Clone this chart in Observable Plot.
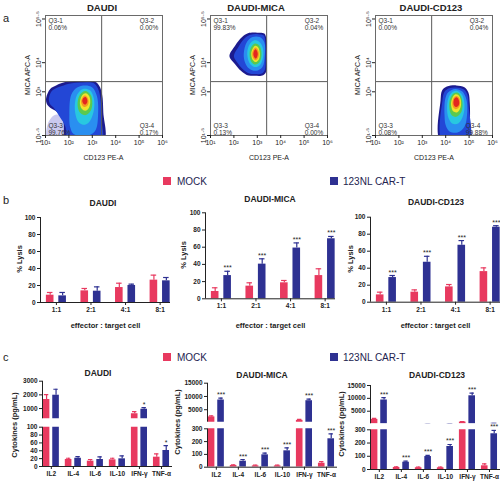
<!DOCTYPE html>
<html><head><meta charset="utf-8">
<script src="https://cdn.jsdelivr.net/npm/d3@7"></script>
<script src="https://cdn.jsdelivr.net/npm/@observablehq/plot@0.6"></script>
<style>
html,body{margin:0;padding:0;background:#fff;}
#root{position:relative;width:500px;height:481px;overflow:hidden;font-family:"Liberation Sans",Arial,Helvetica,sans-serif;}
#root svg{position:absolute;}
</style></head>
<body><div id="root"></div>
<script>
// ================= DATA =================
// Panel a (flow cytometry, log10 units)
const flowTitles = ["DAUDI", "DAUDI-MICA", "DAUDI-CD123"];
const quadNames = ["Q3-1", "Q3-2", "Q3-3", "Q3-4"];
const daudiQuadPct = ["0.06%", "0.00%", "99.76%", "0.17%"];
const micaQuadPct = ["99.83%", "0.04%", "0.13%", "0.00%"];
const cd123QuadPct = ["0.00%", "0.04%", "0.08%", "99.88%"];
const flowXTicks = [1, 2, 3, 4, 5, 6];
const flowXTickLabels = ["10¹", "10²", "10³", "10⁴", "10⁵", "10⁶"];
const flowYTicks = [1.5, 3, 4, 5.5];
const flowYTickLabels = ["10¹·⁵", "10³", "10⁴", "10⁵·⁵"];
const gateX = 3.4, gateY = 3.35;
// density contour outlines as closed polygons [log CD123, log MICA], outer -> inner
const daudiLavender = [[1.1,1.3],[1.1,1.9],[1.4,2.2],[1.8,2.15],[2.0,1.7],[2.0,1.3]];
const daudiContours = [
  [[1.03,2.8],[1.2,3.1],[1.45,3.22],[1.7,3.3],[2.0,3.35],[2.6,3.37],[3.1,3.35],[3.3,3.2],[3.42,2.9],[3.47,2.3],[3.48,1.3],[1.9,1.3],[1.75,2.0],[1.5,2.3],[1.2,2.45],[1.05,2.6]],
  [[1.15,2.8],[1.3,3.05],[1.7,3.2],[2.0,3.28],[2.6,3.32],[3.05,3.3],[3.25,3.1],[3.36,2.7],[3.4,2.0],[3.4,1.3],[1.95,1.3],[1.85,1.8],[1.6,2.15],[1.35,2.45],[1.18,2.6]],
  [[2.02,2.2],[2.1,2.9],[2.35,3.15],[2.7,3.22],[3.0,3.15],[3.2,2.85],[3.25,2.3],[3.15,1.7],[2.9,1.52],[2.5,1.5],[2.2,1.55],[2.05,1.8]],
  [[2.25,2.45],[2.35,2.9],[2.6,3.1],[2.9,3.05],[3.07,2.75],[3.05,2.3],[2.85,1.95],[2.6,1.87],[2.38,2.0]],
  [[2.37,2.55],[2.47,2.9],[2.7,3.03],[2.93,2.9],[3.0,2.6],[2.93,2.35],[2.72,2.2],[2.48,2.28]],
  [[2.47,2.62],[2.57,2.88],[2.72,2.95],[2.87,2.85],[2.91,2.62],[2.83,2.42],[2.7,2.35],[2.55,2.42]],
  [[2.52,2.67],[2.6,2.83],[2.7,2.87],[2.81,2.78],[2.84,2.62],[2.76,2.5],[2.65,2.48],[2.56,2.55]],
  [[2.57,2.69],[2.63,2.8],[2.71,2.82],[2.78,2.74],[2.78,2.63],[2.70,2.56],[2.62,2.59]]
];
const micaContours = [
  [[1.81,4.22],[2.05,4.58],[2.35,4.88],[2.6,5.01],[3.0,5.03],[3.3,5.0],[3.39,4.8],[3.4,4.2],[3.38,3.7],[3.25,3.57],[2.9,3.55],[2.55,3.58],[2.3,3.72],[2.05,3.95]],
  [[2.0,4.22],[2.2,4.55],[2.45,4.83],[2.7,4.96],[3.05,4.98],[3.28,4.93],[3.34,4.7],[3.35,4.2],[3.32,3.75],[3.2,3.63],[2.9,3.61],[2.6,3.65],[2.35,3.8],[2.15,4.0]],
  [[2.42,4.3],[2.55,4.7],[2.8,4.88],[3.1,4.88],[3.3,4.7],[3.32,4.25],[3.22,3.85],[2.95,3.72],[2.65,3.8],[2.48,4.0]],
  [[2.57,4.28],[2.65,4.6],[2.85,4.76],[3.05,4.74],[3.22,4.55],[3.25,4.2],[3.12,3.92],[2.92,3.85],[2.7,3.95]],
  [[2.67,4.28],[2.73,4.52],[2.9,4.66],[3.07,4.6],[3.17,4.4],[3.15,4.12],[3.03,3.97],[2.88,3.94],[2.73,4.05]],
  [[2.74,4.3],[2.8,4.48],[2.92,4.58],[3.04,4.52],[3.11,4.3],[3.06,4.1],[2.93,4.02],[2.8,4.1]],
  [[2.78,4.3],[2.84,4.46],[2.93,4.52],[3.02,4.45],[3.07,4.3],[3.02,4.14],[2.92,4.08],[2.83,4.15]],
  [[2.83,4.3],[2.87,4.42],[2.93,4.46],[2.99,4.4],[3.02,4.3],[2.98,4.18],[2.92,4.14],[2.86,4.2]]
];
const cd123Contours = [
  [[3.78,1.3],[3.78,2.7],[3.85,3.05],[4.05,3.18],[4.45,3.22],[4.8,3.16],[4.97,2.98],[5.03,2.6],[5.04,2.0],[5.04,1.3]],
  [[3.86,1.3],[3.86,2.7],[3.95,3.0],[4.15,3.12],[4.45,3.15],[4.78,3.08],[4.93,2.9],[4.98,2.5],[4.99,1.3]],
  [[3.95,2.2],[3.98,2.75],[4.1,2.98],[4.4,3.1],[4.7,3.02],[4.88,2.75],[4.92,2.3],[4.8,1.8],[4.5,1.6],[4.15,1.65],[4.0,1.85]],
  [[4.06,2.4],[4.12,2.8],[4.3,3.0],[4.5,3.03],[4.7,2.9],[4.8,2.6],[4.75,2.2],[4.55,1.92],[4.3,1.9],[4.12,2.1]],
  [[4.15,2.5],[4.2,2.78],[4.35,2.95],[4.52,2.97],[4.66,2.83],[4.72,2.55],[4.65,2.28],[4.45,2.14],[4.25,2.2]],
  [[4.23,2.55],[4.28,2.78],[4.4,2.91],[4.55,2.88],[4.65,2.7],[4.63,2.45],[4.5,2.3],[4.33,2.32]],
  [[4.28,2.6],[4.33,2.78],[4.45,2.86],[4.57,2.8],[4.62,2.62],[4.55,2.45],[4.43,2.4],[4.32,2.47]],
  [[4.33,2.62],[4.37,2.76],[4.46,2.81],[4.55,2.74],[4.58,2.6],[4.52,2.5],[4.43,2.48],[4.36,2.53]]
];

// Panel b (% lysis)
const ratios = ["1:1", "2:1", "4:1", "8:1"];
const lysisTicks = [0, 20, 40, 60, 80, 100];
const lysisDaudiMock = [8.6, 13.7, 17.6, 26.3];
const lysisDaudiMockErr = [3.2, 2.8, 5.1, 5.9];
const lysisDaudiCar = [7.8, 13.3, 20.0, 25.5];
const lysisDaudiCarErr = [4.0, 5.1, 1.6, 3.9];
const lysisDaudiSig = ["", "", "", ""];
const lysisMicaMock = [8.5, 14.7, 18.6, 27.0];
const lysisMicaMockErr = [4.3, 3.9, 2.7, 7.9];
const lysisMicaCar = [27.0, 40.3, 59.0, 69.8];
const lysisMicaCarErr = [5.0, 6.2, 6.0, 2.7];
const lysisMicaSig = ["***", "***", "***", "***"];
const lysisCd123Mock = [8.6, 11.8, 18.0, 36.0];
const lysisCd123MockErr = [3.2, 2.7, 2.8, 4.4];
const lysisCd123Car = [29.0, 47.0, 67.0, 88.2];
const lysisCd123CarErr = [2.4, 7.0, 5.5, 1.8];
const lysisCd123Sig = ["***", "***", "***", "***"];

// Panel c (cytokines, pg/mL)
const cytokines = ["IL2", "IL-4", "IL-6", "IL-10", "IFN-γ", "TNF-α"];
const cytDaudiMock = [1660, 17.8, 13.6, 17, 620, 23.7];
const cytDaudiMockErr = [360, 3.2, 4.2, 4, 160, 8.3];
const cytDaudiCar = [1975, 21, 17.8, 19.5, 950, 40.7];
const cytDaudiCarErr = [435, 4, 6.8, 7.5, 120, 12.3];
const cytDaudiSig = ["", "", "", "", "*", "*"];
const cytMicaMock = [2300, 13, 10, 10, 1000, 31];
const cytMicaMockErr = [380, 5, 6, 6, 340, 13];
const cytMicaCar = [8660, 47, 96.6, 128, 8400, 222];
const cytMicaCarErr = [730, 13, 13.4, 23, 600, 39];
const cytMicaSig = ["***", "***", "***", "***", "***", "***"];
const cytCd123Mock = [1800, 15, 13, 13, 770, 28];
const cytCd123MockErr = [380, 5, 5, 5, 230, 15];
const cytCd123Car = [9360, 55, 98, 174, 11000, 270];
const cytCd123CarErr = [890, 8, 8, 15, 1050, 25];
const cytCd123Sig = ["***", "***", "***", "***", "***", "***"];
const cytDaudiLowerTicks = [0, 20, 40, 60, 80, 100];
const cytDaudiUpperTicks = [1000, 2000, 3000];
const cytHighLowerTicks = [0, 100, 200, 300];
const cytHighUpperTicks = [5000, 10000, 15000];

const seriesNames = ["MOCK", "123NL CAR-T"];

// ================= STYLE =================
const FONT = '"Liberation Sans", Arial, Helvetica, sans-serif';
const PINK = "#e8395f", NAVY = "#2e3192", INK = "#222";
const FLOW_COLORS = ["#1c1b8f", "#2347d6", "#2a8ff0", "#28c8e0", "#5bc94e", "#f0e42a", "#f49a22", "#e3261f"];
const root = document.getElementById("root");

function place(node, left, top) {
  node.style.position = "absolute";
  node.style.left = left + "px";
  node.style.top = top + "px";
  root.appendChild(node);
}
function txt(s, x, y, o = {}) {
  const d = document.createElement("div");
  d.textContent = s;
  const size = o.size || 8, weight = o.weight || "normal", rot = o.rotate || 0;
  const tx = o.anchor === "start" ? 0 : -50;
  d.style.cssText = `position:absolute;left:${x}px;top:${y}px;font-size:${size}px;font-weight:${weight};color:${o.color || INK};white-space:nowrap;line-height:1;transform:translate(${tx}%,-50%) rotate(${rot}deg);`;
  root.appendChild(d);
}
function swatch(x, y, color, size = 8) {
  const d = document.createElement("div");
  d.style.cssText = `position:absolute;left:${x}px;top:${y}px;width:${size}px;height:${size}px;background:${color};`;
  root.appendChild(d);
}
const baseStyle = (fs) => ({fontFamily: FONT, fontSize: fs, color: INK, background: "transparent", overflow: "visible"});

// ================= PANEL a =================
function flowPlot(contours, lavender, pct, left) {
  const marks = [];
  const blob = (poly, color) => Plot.line(poly, {x: d => d[0], y: d => d[1], curve: "catmull-rom-closed", fill: color, stroke: "none", clip: true});
  if (lavender) marks.push(blob(lavender, "#cac9ee"));
  contours.forEach((c, i) => marks.push(blob(c, FLOW_COLORS[i])));
  const rdx = (s) => -(3 + 3.95 * s.length);
  const qtext = (i, fa, dx, dy) => Plot.text([quadNames[i] + "\n" + pct[i]], {text: d => d, frameAnchor: fa, textAnchor: "start", dx, dy, fontSize: 6.5, fill: "#333", lineHeight: 1.05});
  marks.push(
    Plot.ruleX([gateX], {stroke: "#5a5a5a", strokeWidth: 1}),
    Plot.ruleY([gateY], {stroke: "#5a5a5a", strokeWidth: 1}),
    Plot.frame({stroke: "#6a6a6a"}),
    qtext(0, "top-left", 3, 3),
    qtext(1, "top-right", rdx(pct[1]), 3),
    qtext(2, "bottom-left", 3, -1),
    qtext(3, "bottom-right", rdx(pct[3]), -1),
    Plot.axisX({ticks: flowXTicks, tickFormat: d => flowXTickLabels[flowXTicks.indexOf(d)], tickSize: 3, tickPadding: 2, label: null, fontSize: 7}),
    Plot.axisY({ticks: flowYTicks, tickFormat: d => flowYTickLabels[flowYTicks.indexOf(d)], tickSize: 3, tickPadding: 2, tickRotate: -90, label: null, fontSize: 7})
  );
  const p = Plot.plot({
    width: 165, height: 160, marginLeft: 45, marginRight: 3, marginTop: 15, marginBottom: 25,
    x: {domain: [1, 6]}, y: {domain: [1.5, 5.62]},
    style: baseStyle("7px"), marks
  });
  place(p, left, 0);
}
flowPlot(daudiContours, daudiLavender, daudiQuadPct, 0);
flowPlot(micaContours, null, micaQuadPct, 165);
flowPlot(cd123Contours, null, cd123QuadPct, 330);
[[flowTitles[0], 102, 8], [flowTitles[1], 256, 8], [flowTitles[2], 431, 8]].forEach(([s, x, y]) => txt(s, x, y, {size: 9.5, weight: "bold"}));
[103.5, 269, 434].forEach(x => txt("CD123 PE-A", x, 157, {size: 7}));
[27, 192, 357].forEach(x => txt("MICA APC-A", x, 75, {size: 7, rotate: -90}));
txt("a", 3, 18, {size: 11, anchor: "start"});

// ================= bars helper =================
function barMarks(pos, vals, errs, color, halfW, capW, clip, keep = () => true) {
  const rows = vals.map((v, i) => ({p: pos[i], v, e: errs[i]})).filter(keep);
  return [
    Plot.rectY(rows, {x1: d => d.p - halfW, x2: d => d.p + halfW, y1: 0, y2: "v", fill: color, clip}),
    Plot.ruleX(rows, {x: "p", y1: "v", y2: d => d.v + d.e, stroke: color, strokeWidth: 1.2, clip}),
    Plot.ruleY(rows, {y: d => d.v + d.e, x1: d => d.p - capW, x2: d => d.p + capW, stroke: color, strokeWidth: 1.2, clip})
  ];
}

// ================= PANEL b =================
const B_OFF = 0.18, B_HALF = 0.11, B_CAP = 0.08, B_DOM = [0.54, 4.3];
function lysisPlot(mock, mockErr, car, carErr, sig, g) {
  const xs = ratios.map((_, i) => i + 1);
  const mockPos = xs.map(x => x - B_OFF), carPos = xs.map(x => x + B_OFF);
  const stars = car.map((v, i) => ({p: carPos[i], y: v + carErr[i], s: sig[i]})).filter(d => d.s);
  const p = Plot.plot({
    width: 172, height: 125, marginLeft: 40, marginRight: 2, marginTop: g.mt, marginBottom: g.mb,
    x: {domain: B_DOM}, y: {domain: [0, 100]},
    style: baseStyle("6.5px"),
    marks: [
      ...barMarks(mockPos, mock, mockErr, PINK, B_HALF, B_CAP, false),
      ...barMarks(carPos, car, carErr, NAVY, B_HALF, B_CAP, false),
      Plot.ruleX([B_DOM[0]], {stroke: INK, strokeWidth: 1}),
      Plot.ruleY([0], {stroke: INK, strokeWidth: 1}),
      Plot.axisY({ticks: lysisTicks, tickSize: 3, tickPadding: 2, label: null, fontWeight: "bold"}),
      Plot.axisX({ticks: xs, tickFormat: d => ratios[d - 1], tickSize: 3, tickPadding: 2, label: null, fontWeight: "bold"}),
      Plot.text(stars, {x: "p", y: "y", text: "s", dy: -1, lineAnchor: "bottom", fontSize: 7, fill: INK}),
      Plot.text(["effector : target cell"], {text: d => d, frameAnchor: "bottom", lineAnchor: "middle", dy: g.xdy, fontSize: 7.5, fontWeight: "bold"})
    ]
  });
  place(p, g.left, g.top);
}
lysisPlot(lysisDaudiMock, lysisDaudiMockErr, lysisDaudiCar, lysisDaudiCarErr, lysisDaudiSig, {left: 0, top: 207, mt: 10, mb: 30, xdy: 23});
lysisPlot(lysisMicaMock, lysisMicaMockErr, lysisMicaCar, lysisMicaCarErr, lysisMicaSig, {left: 165, top: 202, mt: 10.3, mb: 28.7, xdy: 27});
lysisPlot(lysisCd123Mock, lysisCd123MockErr, lysisCd123Car, lysisCd123CarErr, lysisCd123Sig, {left: 330, top: 207, mt: 9.7, mb: 30.3, xdy: 23});
[["DAUDI", 103, 203], ["DAUDI-MICA", 270, 199], ["DAUDI-CD123", 436, 202]].forEach(([s, x, y]) => txt(s, x, y, {size: 8.5, weight: "bold"}));
[[20, 259], [184, 255], [351, 259]].forEach(([x, y]) => txt("% Lysis", x, y, {size: 7.5, weight: "bold", rotate: -90}));
txt("b", 3, 200, {size: 11, anchor: "start"});
// legend b
swatch(163, 177, PINK); txt(seriesNames[0], 177, 182, {size: 10, anchor: "start", color: "#23234f"});
swatch(330, 177, NAVY); txt(seriesNames[1], 343, 182, {size: 10, anchor: "start", color: "#23234f"});

// ================= PANEL c =================
const C_OFF = 0.215, C_HALF = 0.15, C_CAP = 0.1, C_DOM = [0.6, 6.5];
function cytoPlot(mock, mockErr, car, carErr, sig, g) {
  const xs = cytokines.map((_, i) => i + 1);
  const mockPos = xs.map(x => x - C_OFF), carPos = xs.map(x => x + C_OFF);
  const stars = car.map((v, i) => ({p: carPos[i], y: v + carErr[i], s: sig[i]})).filter(d => d.s);
  const inUpper = d => d.v + d.e > g.uDomain[0];
  const common = {width: 174, marginLeft: 42, marginRight: 2, style: baseStyle("6.5px")};
  const upper = Plot.plot({
    ...common, height: g.uh, marginTop: g.umt, marginBottom: g.umb,
    x: {domain: C_DOM, axis: null}, y: {domain: g.uDomain},
    marks: [
      ...barMarks(mockPos, mock, mockErr, PINK, C_HALF, C_CAP, true, inUpper),
      ...barMarks(carPos, car, carErr, NAVY, C_HALF, C_CAP, true, inUpper),
      Plot.ruleX([C_DOM[0]], {stroke: INK, strokeWidth: 1}),
      Plot.axisY({ticks: g.uTicks, tickFormat: d => String(d), tickSize: 3, tickPadding: 2, label: null, fontWeight: "bold"}),
      Plot.text(stars.filter(d => d.y > g.lMax), {x: "p", y: "y", text: "s", dy: -1, lineAnchor: "bottom", fontSize: 7, fill: INK})
    ]
  });
  place(upper, g.left, g.ut);
  const lower = Plot.plot({
    ...common, height: g.lh, marginTop: g.lmt, marginBottom: g.lmb,
    x: {domain: C_DOM}, y: {domain: [0, g.lMax]},
    marks: [
      ...barMarks(mockPos, mock, mockErr, PINK, C_HALF, C_CAP, true),
      ...barMarks(carPos, car, carErr, NAVY, C_HALF, C_CAP, true),
      Plot.ruleX([C_DOM[0]], {stroke: INK, strokeWidth: 1}),
      Plot.ruleY([0], {stroke: INK, strokeWidth: 1}),
      Plot.axisY({ticks: g.lTicks, tickSize: 3, tickPadding: 2, label: null, fontWeight: "bold"}),
      Plot.axisX({ticks: xs, tickFormat: d => cytokines[d - 1], tickSize: 3, tickPadding: 2, label: null, fontWeight: "bold"}),
      Plot.text(stars.filter(d => d.y <= g.lMax), {x: "p", y: "y", text: "s", dy: -1, lineAnchor: "bottom", fontSize: 7, fill: INK})
    ]
  });
  place(lower, g.left, g.lt);
}
cytoPlot(cytDaudiMock, cytDaudiMockErr, cytDaudiCar, cytDaudiCarErr, cytDaudiSig,
  {left: 0, ut: 370, uh: 50, umt: 10.7, umb: 1.7, uDomain: [250, 3000], uTicks: cytDaudiUpperTicks,
   lt: 420, lh: 61, lmt: 6.7, lmb: 15, lMax: 100, lTicks: cytDaudiLowerTicks});
cytoPlot(cytMicaMock, cytMicaMockErr, cytMicaCar, cytMicaCarErr, cytMicaSig,
  {left: 164.7, ut: 372, uh: 50, umt: 10.7, umb: 0.3, uDomain: [300, 15000], uTicks: cytHighUpperTicks,
   lt: 422, lh: 59, lmt: 6.3, lmb: 14.3, lMax: 300, lTicks: cytHighLowerTicks});
cytoPlot(cytCd123Mock, cytCd123MockErr, cytCd123Car, cytCd123CarErr, cytCd123Sig,
  {left: 328, ut: 374, uh: 50, umt: 11, umb: 0.7, uDomain: [100, 15000], uTicks: cytHighUpperTicks,
   lt: 424, lh: 57, lmt: 5.3, lmb: 12, lMax: 300, lTicks: cytHighLowerTicks});
[["DAUDI", 98, 373], ["DAUDI-MICA", 262, 375], ["DAUDI-CD123", 437, 375]].forEach(([s, x, y]) => txt(s, x, y, {size: 8.5, weight: "bold"}));
[[15, 425], [178, 422], [342, 424]].forEach(([x, y]) => txt("Cytokines (pg/mL)", x, y, {size: 7.5, weight: "bold", rotate: -90}));
txt("c", 3, 357, {size: 11, anchor: "start"});
swatch(163, 353, PINK); txt(seriesNames[0], 177, 357.5, {size: 10, anchor: "start", color: "#23234f"});
swatch(330, 353, NAVY); txt(seriesNames[1], 343, 357.5, {size: 10, anchor: "start", color: "#23234f"});
</script></body></html>
